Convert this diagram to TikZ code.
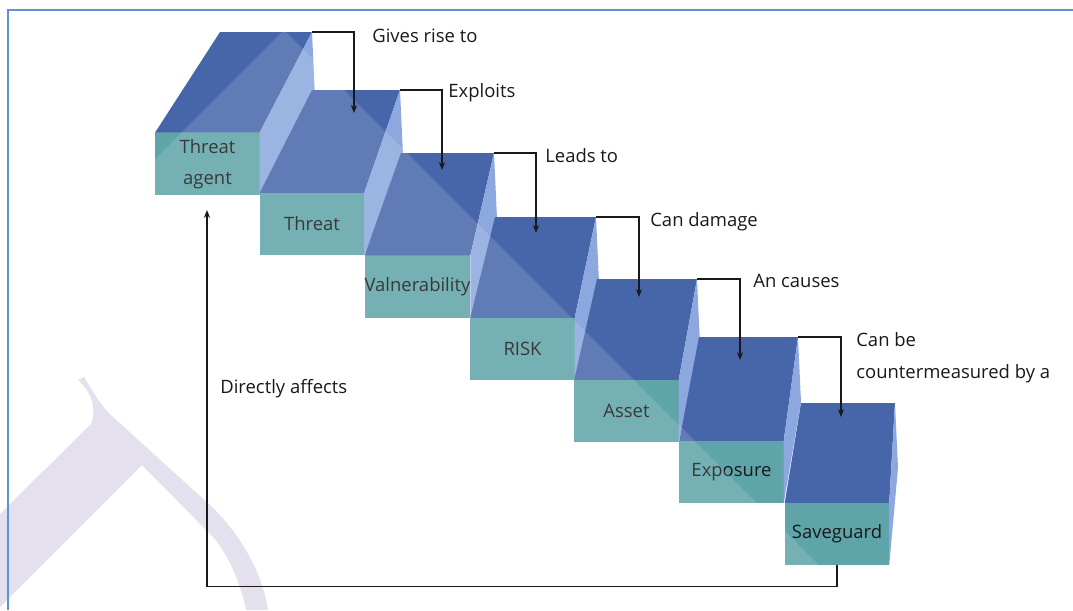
\documentclass[tikz,border=0pt]{standalone}
\usepackage{fontspec}
\setmainfont{Open Sans}
\usepackage{tikz}
\usetikzlibrary{arrows.meta,calc}
\definecolor{stepTop}{RGB}{71,102,170}
\definecolor{stepSide}{RGB}{140,168,222}
\definecolor{stepFront}{RGB}{94,164,168}
\definecolor{markLilac}{RGB}{229,224,238}
\definecolor{frameBlue}{RGB}{95,145,212}
\definecolor{inkGray}{RGB}{25,25,25}

\begin{document}
\begin{tikzpicture}[x=0.02cm,y=-0.02cm,font=\fontsize{10.5}{12.5}\selectfont,>=Stealth,
  face/.style={fill=stepFront,minimum width=2.09cm,minimum height=1.25cm,inner sep=0pt,outer sep=0pt,text=inkGray,align=center},
  tread/.style={fill=stepTop},
  riser/.style={fill=stepSide},
  lbl/.style={anchor=base west,inner sep=0pt,text=inkGray},
  flow/.style={-{Stealth[length=4.5pt,width=3.5pt]},line width=0.7pt,inkGray}]
\useasboundingbox (0,0) rectangle (1073,610);

% step 1
\coordinate (agentbl) at (220,32);
\coordinate (agentbr) at (312,32);
\node[face] (agent) at (207.5,163.5) {\strut Threat\\[5.5pt]agent};
\fill[tread] (agent.north west) -- (agent.north east) -- (agentbr) -- (agentbl) -- cycle;
\fill[riser] (agent.north east) -- (agentbr) -- ++(3,65) -- (agent.south east) -- cycle;
% step 2
\coordinate (threatbr) at (400,90);
\node[face] (threat) at (312,224) {Threat};
\fill[tread] (threat.north west) -- (threat.north east) -- (threatbr) -- (312,90) -- cycle;
\fill[riser] (threat.north east) -- (threatbr) -- ++(3,65) -- (threat.south east) -- cycle;
% step 3
\coordinate (vulnbr) at (494,153);
\node[face] (vuln) at (417.5,286.5) {Valnerability};
\fill[tread] (vuln.north west) -- (vuln.north east) -- (vulnbr) -- (401,153) -- cycle;
\fill[riser] (vuln.north east) -- (vulnbr) -- ++(3,65) -- (vuln.south east) -- cycle;
% step 4
\coordinate (riskbr) at (596,217);
\node[face] (risk) at (522.5,349) {RISK};
\fill[tread] (risk.north west) -- (risk.north east) -- (riskbr) -- (495,217) -- cycle;
\fill[riser] (risk.north east) -- (riskbr) -- ++(3,65) -- (risk.south east) -- cycle;
% step 5
\coordinate (assetbr) at (697,279);
\node[face] (asset) at (626.5,411) {Asset};
\fill[tread] (asset.north west) -- (asset.north east) -- (assetbr) -- (597,279) -- cycle;
\fill[riser] (asset.north east) -- (assetbr) -- ++(3,65) -- (asset.south east) -- cycle;
% step 6
\coordinate (expobr) at (798,337);
\node[face] (expo) at (731.5,472) {Exposure};
\fill[tread] (expo.north west) -- (expo.north east) -- (expobr) -- (699,337) -- cycle;
\fill[riser] (expo.north east) -- (expobr) -- ++(3,65) -- (expo.south east) -- cycle;
% step 7
\coordinate (guardbr) at (895,403);
\node[face] (guard) at (837,534) {Saveguard};
\fill[tread] (guard.north west) -- (guard.north east) -- (guardbr) -- (801,403) -- cycle;
\fill[riser] (guard.north east) -- (guardbr) -- ++(3,65) -- (guard.south east) -- cycle;

% light sheen over the stairs
\fill[white,opacity=0.14] (284,30) -- (884,630) -- (-316,630) -- cycle;

% watermark and frame
\fill[markLilac] (78,380) .. controls (92,392) and (97,410) .. (91,424) -- (0,514) -- (0,607)
  -- (142,465) -- (214,538) .. controls (232,560) and (242,590) .. (246,610) -- (268,610)
  .. controls (262,572) and (240,530) .. (200,496) -- (112,416)
  .. controls (100,405) and (92,390) .. (84,377) -- cycle;
\draw[frameBlue,line width=1.2pt] (8,610) -- (8,10) -- (1073,10);

% connectors
\coordinate (t2) at (354,113);
\coordinate (t3) at (442,170);
\coordinate (t4) at (536,233);
\coordinate (t5) at (639,297);
\coordinate (t6) at (740,360);
\coordinate (t7) at (841,417);
\coordinate (fb) at (207,210);
\draw[flow] (agentbr) -| (t2);
\draw[flow] (threatbr) -| (t3);
\draw[flow] (vulnbr) -| (t4);
\draw[flow] (riskbr) -| (t5);
\draw[flow] (assetbr) -| (t6);
\draw[flow] (expobr) -| (t7);
\draw[flow] (guard.south) -- ++(0,21) -| (fb);

% labels
\node[lbl] (l1) at (372,42) {Gives rise to};
\node[lbl] (l2) at (448,97) {Exploits};
\node[lbl] (l3) at (545,162) {Leads to};
\node[lbl] (l4) at (650,226) {Can damage};
\node[lbl] (l5) at (753,287) {An causes};
\node[lbl] (l6) at (856,346) {Can be};
\node[lbl] (l6b) at (856,378) {countermeasured by a};
\node[lbl] (l7) at (220,393) {Directly affects};
\end{tikzpicture}
\end{document}
